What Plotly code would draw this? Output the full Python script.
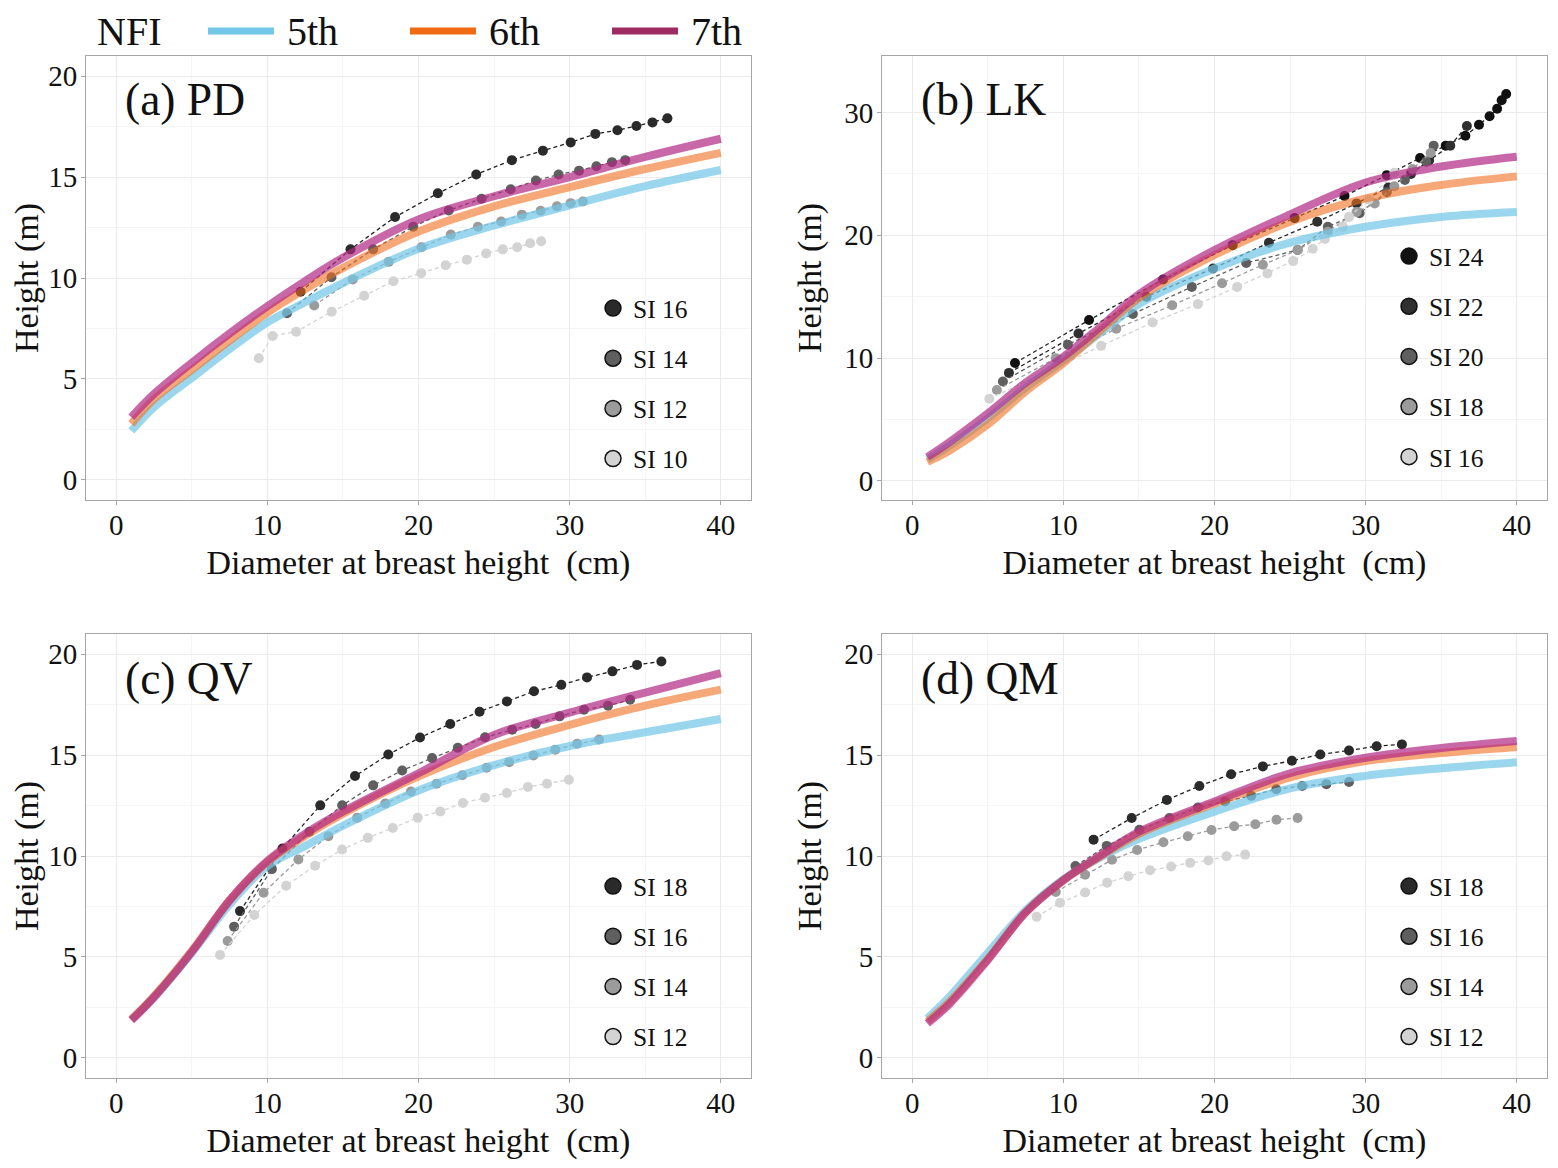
import plotly.graph_objects as go

# ---------------- data ----------------
DBH_GRID = [1, 2.5, 5, 7.5, 10, 12.5, 15, 20, 25, 30, 35, 40]

PD_5TH = [2.43, 3.6, 5.05, 6.48, 7.8, 8.8, 9.75, 11.45, 12.6, 13.6, 14.55, 15.35]
PD_6TH = [2.77, 4.0, 5.45, 6.9, 8.28, 9.45, 10.5, 12.3, 13.55, 14.5, 15.4, 16.2]
PD_7TH = [3.1, 4.25, 5.8, 7.25, 8.6, 9.85, 11.0, 12.9, 14.05, 15.0, 16.0, 16.9]

LK_5TH = [1.75, 2.9, 5.1, 7.6, 9.8, 12.1, 14.4, 17.3, 19.4, 20.7, 21.5, 21.9]
LK_6TH = [1.55, 2.5, 4.6, 7.3, 9.6, 12.3, 14.9, 18.4, 21.1, 23.0, 24.1, 24.8]
LK_7TH = [1.95, 3.2, 5.5, 8.0, 10.1, 12.6, 15.2, 18.8, 21.7, 24.3, 25.6, 26.4]

QV_5TH = [1.9, 3.0, 5.2, 7.6, 9.5, 10.5, 11.5, 13.25, 14.5, 15.45, 16.13, 16.79]
QV_6TH = [1.9, 3.05, 5.3, 7.8, 9.7, 11.0, 12.1, 13.95, 15.4, 16.5, 17.45, 18.24]
QV_7TH = [1.85, 3.0, 5.25, 7.8, 9.75, 11.1, 12.2, 14.1, 16.0, 17.1, 18.1, 19.06]

QM_5TH = [1.95, 3.05, 5.2, 7.3, 8.85, 9.95, 10.85, 12.2, 13.35, 13.97, 14.35, 14.65]
QM_6TH = [1.8, 2.8, 4.9, 7.2, 8.8, 10.0, 11.1, 12.6, 13.9, 14.7, 15.1, 15.4]
QM_7TH = [1.7, 2.7, 4.85, 7.2, 8.8, 10.05, 11.2, 12.7, 14.1, 14.87, 15.35, 15.7]

# observed site-index class means (DBH, height)
PD_SI16_X = [12.2, 15.5, 18.45, 21.28, 23.82, 26.18, 28.23, 30.07, 31.7, 33.16, 34.42, 35.48, 36.47]
PD_SI16_Y = [9.32, 11.42, 13.02, 14.2, 15.13, 15.84, 16.31, 16.72, 17.14, 17.32, 17.53, 17.71, 17.91]
PD_SI14_X = [11.3, 14.24, 17.0, 19.65, 22.0, 24.17, 26.1, 27.77, 29.27, 30.62, 31.77, 32.8, 33.68]
PD_SI14_Y = [8.25, 10.04, 11.42, 12.54, 13.35, 13.93, 14.4, 14.83, 15.13, 15.32, 15.54, 15.74, 15.84]
PD_SI12_X = [13.1, 15.65, 18.03, 20.2, 22.14, 23.93, 25.47, 26.84, 28.08, 29.16, 30.07, 30.88]
PD_SI12_Y = [8.64, 9.93, 10.8, 11.52, 12.15, 12.54, 12.8, 13.14, 13.33, 13.55, 13.71, 13.79]
PD_SI10_X = [9.43, 10.35, 11.9, 14.26, 16.4, 18.34, 20.18, 21.8, 23.2, 24.48, 25.58, 26.53, 27.39, 28.12]
PD_SI10_Y = [6.02, 7.13, 7.34, 8.33, 9.12, 9.84, 10.24, 10.63, 10.91, 11.22, 11.42, 11.52, 11.72, 11.82]

LK_SI24_X = [6.8, 11.7, 16.6, 21.2, 25.3, 28.6, 31.4, 33.6, 35.3, 36.6, 37.5, 38.2, 38.7, 39.0, 39.3]
LK_SI24_Y = [9.6, 13.1, 16.4, 19.2, 21.4, 23.2, 24.9, 26.3, 27.3, 28.1, 29.0, 29.7, 30.3, 31.0, 31.5]
LK_SI22_X = [6.4, 11.0, 15.5, 19.9, 23.6, 26.8, 29.4, 31.5, 33.0, 34.2, 35.6, 36.7]
LK_SI22_Y = [8.8, 12.0, 15.0, 17.3, 19.4, 21.1, 22.6, 23.9, 25.0, 26.1, 27.3, 28.9]
LK_SI20_X = [6.0, 10.3, 14.6, 18.5, 22.1, 25.5, 27.5, 29.6, 31.4, 32.6, 34.0, 34.5]
LK_SI20_Y = [8.1, 11.1, 13.6, 15.8, 17.75, 18.8, 20.7, 21.8, 23.5, 24.5, 26.0, 27.3]
LK_SI18_X = [5.6, 9.5, 13.5, 17.2, 20.5, 23.2, 25.5, 27.5, 29.4, 30.6, 31.9, 33.1, 34.3]
LK_SI18_Y = [7.4, 10.0, 12.4, 14.3, 16.1, 17.6, 18.8, 20.3, 21.9, 22.6, 24.0, 25.4, 26.7]
LK_SI16_X = [5.1, 12.5, 15.9, 18.9, 21.5, 23.5, 25.2, 26.5, 27.3, 28.5, 28.9, 30.2, 31.9]
LK_SI16_Y = [6.7, 11.0, 12.9, 14.4, 15.8, 16.9, 17.9, 18.9, 19.7, 20.7, 21.5, 22.9, 25.1]

QV_SI18_X = [8.19, 11.0, 13.5, 15.8, 18.0, 20.1, 22.1, 24.04, 25.85, 27.64, 29.45, 31.15, 32.83, 34.46, 36.07]
QV_SI18_Y = [7.27, 10.37, 12.51, 13.96, 15.03, 15.87, 16.54, 17.15, 17.66, 18.16, 18.48, 18.85, 19.15, 19.47, 19.64]
QV_SI16_X = [7.8, 10.3, 12.78, 14.95, 17.0, 18.92, 20.9, 22.6, 24.4, 26.2, 27.75, 29.34, 30.95, 32.54, 34.0]
QV_SI16_Y = [6.5, 9.35, 11.2, 12.51, 13.5, 14.24, 14.85, 15.36, 15.88, 16.26, 16.54, 16.92, 17.25, 17.45, 17.74]
QV_SI14_X = [7.37, 9.75, 12.05, 14.04, 15.94, 17.8, 19.5, 21.2, 22.9, 24.5, 26.0, 27.6, 29.05, 30.5, 31.95]
QV_SI14_Y = [5.79, 8.18, 9.83, 10.98, 11.89, 12.6, 13.2, 13.58, 14.0, 14.37, 14.65, 14.98, 15.27, 15.56, 15.77]
QV_SI12_X = [6.87, 9.14, 11.24, 13.16, 14.95, 16.65, 18.3, 19.95, 21.44, 22.94, 24.4, 25.85, 27.24, 28.5, 29.95]
QV_SI12_Y = [5.1, 7.08, 8.53, 9.52, 10.32, 10.9, 11.39, 11.9, 12.21, 12.63, 12.89, 13.12, 13.42, 13.58, 13.78]

QM_SI18_X = [12.0, 14.52, 16.85, 19.0, 21.1, 23.2, 25.12, 27.0, 28.9, 30.73, 32.4]
QM_SI18_Y = [10.81, 11.88, 12.78, 13.47, 14.05, 14.44, 14.72, 15.03, 15.23, 15.44, 15.53]
QM_SI16_X = [10.8, 12.87, 15.03, 17.02, 18.9, 20.7, 22.43, 24.09, 25.8, 27.4, 28.9]
QM_SI16_Y = [9.5, 10.5, 11.3, 11.88, 12.4, 12.7, 12.98, 13.31, 13.47, 13.56, 13.67]
QM_SI14_X = [9.5, 11.44, 13.22, 14.88, 16.62, 18.23, 19.8, 21.3, 22.7, 24.1, 25.5]
QM_SI14_Y = [8.22, 9.07, 9.81, 10.3, 10.68, 10.98, 11.29, 11.47, 11.57, 11.8, 11.88]
QM_SI12_X = [8.23, 9.78, 11.44, 12.9, 14.3, 15.74, 17.13, 18.39, 19.6, 20.8, 22.03]
QM_SI12_Y = [6.99, 7.68, 8.19, 8.68, 9.0, 9.29, 9.48, 9.66, 9.78, 9.99, 10.07]

NFI_LABELS = ["5th", "6th", "7th"]
X_TICKS = [0, 10, 20, 30, 40]

# ---------------- styling ----------------
FONT = "Liberation Serif, Times New Roman, serif"
NFI_SOLID = ["#73C8E8", "#F06A14", "#9E2A62"]
NFI_FADED = ["rgba(115,200,232,0.72)", "rgba(242,110,30,0.6)", "rgba(178,40,132,0.7)"]
GRAY4 = ["#2a2a2a", "#5f5f5f", "#9b9b9b", "#d3d3d3"]
GRAY5 = ["#111111", "#303030", "#5f5f5f", "#9b9b9b", "#d3d3d3"]

# page has an 8px body margin: figure placed at (8, 8) in the window
PAGE_W, PAGE_H, BODY = 1558, 1168, 8
W, H = PAGE_W - 2 * BODY, PAGE_H - 2 * BODY
COLS = [(86 - BODY, 751 - BODY), (882 - BODY, 1547 - BODY)]
ROWS = [(56 - BODY, 500 - BODY), (634 - BODY, 1078 - BODY)]


def px_x(px):
    return (px - BODY) / W


def px_y(py):
    return 1 - (py - BODY) / H


panels = [
    dict(label="(a) PD", col=0, row=0, yr=[-1, 21], ydt=5,
         curves=[PD_5TH, PD_6TH, PD_7TH],
         si=[("SI 16", PD_SI16_X, PD_SI16_Y), ("SI 14", PD_SI14_X, PD_SI14_Y),
             ("SI 12", PD_SI12_X, PD_SI12_Y), ("SI 10", PD_SI10_X, PD_SI10_Y)],
         grays=GRAY4),
    dict(label="(b) LK", col=1, row=0, yr=[-1.55, 34.6], ydt=10,
         curves=[LK_5TH, LK_6TH, LK_7TH],
         si=[("SI 24", LK_SI24_X, LK_SI24_Y), ("SI 22", LK_SI22_X, LK_SI22_Y),
             ("SI 20", LK_SI20_X, LK_SI20_Y), ("SI 18", LK_SI18_X, LK_SI18_Y),
             ("SI 16", LK_SI16_X, LK_SI16_Y)],
         grays=GRAY5),
    dict(label="(c) QV", col=0, row=1, yr=[-1, 21], ydt=5,
         curves=[QV_5TH, QV_6TH, QV_7TH],
         si=[("SI 18", QV_SI18_X, QV_SI18_Y), ("SI 16", QV_SI16_X, QV_SI16_Y),
             ("SI 14", QV_SI14_X, QV_SI14_Y), ("SI 12", QV_SI12_X, QV_SI12_Y)],
         grays=GRAY4),
    dict(label="(d) QM", col=1, row=1, yr=[-1, 21], ydt=5,
         curves=[QM_5TH, QM_6TH, QM_7TH],
         si=[("SI 18", QM_SI18_X, QM_SI18_Y), ("SI 16", QM_SI16_X, QM_SI16_Y),
             ("SI 14", QM_SI14_X, QM_SI14_Y), ("SI 12", QM_SI12_X, QM_SI12_Y)],
         grays=GRAY4),
]

fig = go.Figure()
layout = {}
annotations = []
shapes = []

for i, p in enumerate(panels):
    n = i + 1
    xa = "x" if n == 1 else f"x{n}"
    ya = "y" if n == 1 else f"y{n}"
    leg = f"legend{n + 1}"
    x0, x1 = COLS[p["col"]]
    y0, y1 = ROWS[p["row"]]
    pw, ph = x1 - x0, y1 - y0

    # observed points (drawn first, underneath the curves)
    for (name, xs, ys), g in zip(p["si"], p["grays"]):
        fig.add_trace(go.Scatter(
            x=xs, y=ys, mode="lines+markers", xaxis=xa, yaxis=ya, showlegend=False,
            name=name,
            line=dict(color="#222222" if g in ("#111111", "#2a2a2a", "#303030") else g,
                      width=1.3, dash="4px,3px"),
            marker=dict(size=10, color=g, line=dict(width=0)),
            hoverinfo="skip"))
    # legend keys for the SI classes
    for k, ((name, xs, ys), g) in enumerate(zip(p["si"], p["grays"])):
        fig.add_trace(go.Scatter(
            x=[None], y=[None], mode="markers", name=name, xaxis=xa, yaxis=ya,
            legend=leg, legendgroup=f"{leg}_{k}", showlegend=True,
            marker=dict(size=16, color=g, line=dict(width=1.5, color="#111111"))))
    # fitted curves
    for c, ys in enumerate(p["curves"]):
        fig.add_trace(go.Scatter(
            x=DBH_GRID, y=ys, mode="lines", xaxis=xa, yaxis=ya, showlegend=False,
            name=NFI_LABELS[c],
            line=dict(color=NFI_FADED[c], width=8, shape="spline", smoothing=1.0),
            hoverinfo="skip"))

    dom_x = [x0 / W, x1 / W]
    dom_y = [1 - y1 / H, 1 - y0 / H]
    xkey = "xaxis" if n == 1 else f"xaxis{n}"
    ykey = "yaxis" if n == 1 else f"yaxis{n}"
    layout[xkey] = dict(
        domain=dom_x, anchor=ya, range=[-2, 42], tickvals=X_TICKS,
        showgrid=True, gridcolor="#ebebeb", gridwidth=1,
        minor=dict(dtick=5, tick0=0, showgrid=True, gridcolor="#f5f5f5", gridwidth=1),
        showline=True, mirror=True, linecolor="#a6a6a6", linewidth=1,
        ticks="outside", ticklen=4, tickcolor="#a6a6a6", zeroline=False,
        ticklabelstandoff=-5,
        tickfont=dict(family=FONT, size=29, color="#111111"),
        title=dict(text="Diameter at breast height\u00a0 (cm)", standoff=10,
                   font=dict(family=FONT, size=34, color="#111111")))
    layout[ykey] = dict(
        domain=dom_y, anchor=xa, range=p["yr"], dtick=p["ydt"], tick0=0,
        showgrid=True, gridcolor="#ebebeb", gridwidth=1,
        minor=dict(dtick=p["ydt"] / 2, tick0=0, showgrid=True, gridcolor="#f5f5f5", gridwidth=1),
        showline=True, mirror=True, linecolor="#a6a6a6", linewidth=1,
        ticks="outside", ticklen=4, tickcolor="#a6a6a6", zeroline=False,
        ticklabelstandoff=-2,
        tickfont=dict(family=FONT, size=29, color="#111111"),
        title=dict(text="Height (m)", standoff=12,
                   font=dict(family=FONT, size=34, color="#111111")))

    nitems = len(p["si"])
    top_px = 177 if nitems == 5 else 229
    layout[leg] = dict(
        x=(x0 + 507) / W, y=1 - (y0 + top_px) / H, xanchor="left", yanchor="top",
        bgcolor="rgba(0,0,0,0)", borderwidth=0, tracegroupgap=14,
        itemsizing="trace",
        font=dict(family=FONT, size=25.5, color="#111111"))

    annotations.append(dict(
        text=p["label"], xref=f"{xa} domain", yref=f"{ya} domain",
        x=37 / pw, y=1 - 44 / ph,
        xanchor="left", yanchor="middle", showarrow=False,
        font=dict(family=FONT, size=45.5, color="#111111")))

# ---- NFI key across the top (text + line swatches in paper space) ----
KEY_Y = 31
annotations.append(dict(
    text="NFI", xref="paper", yref="paper", x=px_x(95), y=px_y(KEY_Y),
    xanchor="left", yanchor="middle", showarrow=False,
    font=dict(family=FONT, size=40, color="#111111")))
KEY_X = [208, 410, 612]
for c, lab in enumerate(NFI_LABELS):
    kx = KEY_X[c]
    shapes.append(dict(
        type="line", xref="paper", yref="paper",
        x0=px_x(kx), x1=px_x(kx + 66), y0=px_y(KEY_Y), y1=px_y(KEY_Y),
        line=dict(color=NFI_SOLID[c], width=7)))
    annotations.append(dict(
        text=lab, xref="paper", yref="paper", x=px_x(kx + 77), y=px_y(KEY_Y),
        xanchor="left", yanchor="middle", showarrow=False,
        font=dict(family=FONT, size=40, color="#111111")))

fig.update_layout(
    width=W, height=H, margin=dict(l=0, r=0, t=0, b=0),
    paper_bgcolor="white", plot_bgcolor="white",
    annotations=annotations, shapes=shapes, **layout)

fig.write_html("out.html")
